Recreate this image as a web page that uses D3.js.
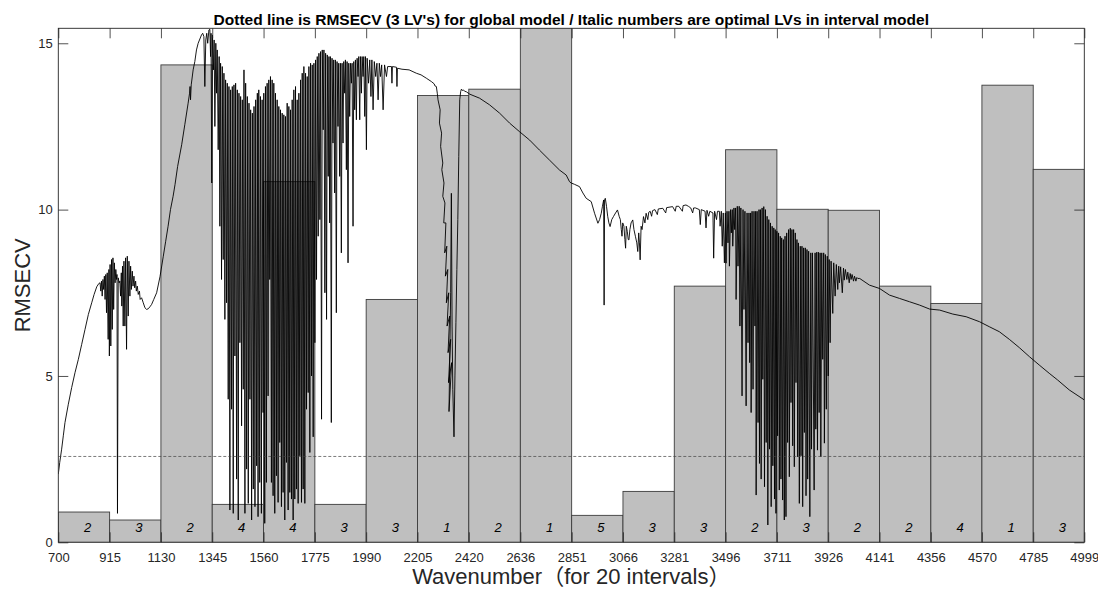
<!DOCTYPE html>
<html>
<head>
<meta charset="utf-8">
<script src="https://cdn.jsdelivr.net/npm/d3@7/dist/d3.min.js"></script>
<style>
  html, body { margin: 0; padding: 0; background: #fff; }
  svg { display: block; font-family: "Liberation Sans", Arial, Helvetica, sans-serif; }
</style>
</head>
<body>
<svg id="chart" width="1098" height="590"></svg>
<script>
// Interval boundaries (wavenumber) used as x tick labels
const tickWavenumbers = [700, 915, 1130, 1345, 1560, 1775, 1990, 2205, 2420, 2636, 2851,
  3066, 3281, 3496, 3711, 3926, 4141, 4356, 4570, 4785, 4999];

// RMSECV of each interval model (20 intervals)
const intervalRmsecv = [0.91, 0.67, 14.35, 1.14, 10.84, 1.14, 7.30, 13.43, 13.62, 15.60,
  0.81, 1.53, 7.70, 11.80, 10.01, 9.98, 7.70, 7.18, 13.74, 11.21];

// Optimal number of latent variables in each interval model
const optimalLVs = [2, 3, 2, 4, 4, 3, 3, 1, 2, 1, 5, 3, 3, 2, 3, 2, 2, 4, 1, 3];

// RMSECV of the global model (3 LVs)
const globalRmsecv = 2.58;

const yTicks = [0, 5, 10, 15];

// Mean spectrum, scaled onto the RMSECV axis: [wavenumber, value]
const meanSpectrum = [
  [700,2.05],[706,2.4],[714,2.8],[721,3.2],[728,3.6],[742,4.15],[756,4.65],[770,5.1],[784,5.5],
  [798,5.95],[812,6.4],[826,6.85],[840,7.2],[850,7.45],[861,7.68],[870,7.78],
  [875,7.8],[878,7.55],[881,7.85],[884,7.4],[887,7.9],[890,7.6],[893,8.0],[896,7.3],[899,8.05],
  [902,6.9],[905,8.1],[909,6.1],[912,8.2],[914,5.6],[917,8.35],[920,5.9],[923,8.5],[926,6.4],
  [929,8.55],[932,7.0],[935,8.4],[938,7.8],[941,8.2],[944,7.9],[946,8.05],[948,0.87],[951,7.95],
  [955,7.8],[958,7.85],[961,7.4],[964,8.1],[966,7.1],[969,8.3],[972,6.5],[975,8.45],[979,6.5],
  [982,8.55],[986,5.8],[989,8.6],[993,6.8],[996,8.45],[1000,7.4],[1003,8.3],[1006,7.6],[1010,8.15],
  [1013,7.7],[1017,8.0],[1020,7.65],[1024,7.85],[1027,7.55],[1031,7.7],[1035,7.45],[1040,7.55],
  [1043,7.3],[1049,7.35],[1056,7.2],[1063,7.05],[1070,7.0],[1077,7.02],[1084,7.08],[1091,7.15],
  [1100,7.3],[1112,7.5],
  [1126,7.98],[1140,8.6],[1150,9.05],[1160,9.5],[1170,10.0],[1181,10.4],[1189,10.75],[1200,11.3],
  [1217,11.95],[1230,12.55],[1244,13.2],[1250,13.5],[1252,13.7],[1254,13.3],[1257,13.75],
  [1265,14.2],[1272,14.45],[1279,14.8],[1286,15.0],[1300,15.25],[1305,15.3],[1310,15.2],
  [1314,13.7],[1318,15.1],[1322,15.3],[1326,15.0],[1331,15.4],[1335,15.42],[1338,14.6],
  [1340,15.3],[1343,10.8],
  [1346,15.25],[1350,14.2],[1353,15.1],[1356,12.5],[1360,15.0],[1363,13.5],[1366,14.8],[1370,11.8],
  [1374,14.6],[1377,9.5],[1380,14.4],[1384,7.9],[1387,14.3],[1391,8.5],[1394,14.1],[1398,6.7],
  [1401,13.9],[1405,7.2],[1408,13.8],[1412,4.3],[1415,13.7],[1419,0.97],[1422,13.6],[1426,4.0],
  [1429,13.7],[1433,0.87],[1436,13.75],[1440,5.6],[1443,13.8],[1447,1.9],[1450,13.6],[1454,0.67],
  [1457,13.5],[1461,6.0],[1464,13.4],[1468,3.5],[1471,13.3],[1475,4.6],[1478,14.2],[1482,0.87],
  [1485,13.8],[1489,2.2],[1492,13.4],[1496,1.17],[1499,13.2],[1503,4.3],[1506,13.0],[1510,0.67],
  [1513,12.9],[1517,1.6],[1520,13.1],[1524,1.07],[1527,13.3],[1531,2.3],[1534,13.5],[1537,0.77],
  [1540,13.6],[1544,1.8],[1547,13.4],[1551,0.87],[1554,13.3],[1558,3.9],[1561,13.5],[1565,0.57],
  [1568,13.7],[1572,1.8],[1575,13.8],[1579,4.4],[1582,13.9],[1586,7.9],[1589,14.0],[1593,1.8],
  [1596,13.9],[1600,1.4],[1603,13.8],[1607,0.87],[1610,13.5],[1614,2.0],[1617,13.3],[1621,1.2],
  [1624,13.1],[1628,3.0],[1631,13.0],[1635,1.07],[1638,12.9],[1642,1.5],[1645,12.85],[1649,0.67],
  [1652,12.8],[1656,2.4],[1659,13.2],[1663,0.97],[1666,13.1],[1670,1.5],[1673,13.0],[1677,1.3],
  [1680,13.3],[1684,0.67],[1687,13.6],[1691,1.3],[1694,13.7],[1698,1.6],[1701,13.3],[1705,1.17],
  [1708,13.5],[1712,2.6],[1715,13.9],[1719,1.2],[1722,14.1],[1726,1.6],[1729,14.3],[1733,1.17],
  [1736,14.1],[1740,4.0],[1743,14.0],[1747,4.5],[1750,14.3],[1754,2.7],[1757,14.4],[1761,5.0],
  [1764,14.35],[1768,3.17],[1771,14.4],[1775,6.0],[1778,14.5],[1782,7.9],[1785,14.6],[1789,9.2],
  [1792,14.7],[1796,9.7],[1799,14.75],[1803,3.7],[1806,14.8],[1810,12.4],[1813,14.8],[1817,7.5],
  [1820,14.7],[1824,6.7],[1827,14.65],[1831,11.0],[1834,14.6],[1837,9.6],[1840,14.6],[1844,3.6],
  [1847,14.55],[1851,12.0],[1854,14.5],[1858,10.5],[1861,14.5],[1865,6.9],[1868,14.45],[1872,12.5],
  [1875,14.4],[1879,11.0],[1882,14.4],[1886,8.7],[1889,14.4],[1893,12.0],[1896,14.45],[1900,13.5],
  [1903,14.5],[1907,11.2],[1910,14.45],[1914,8.4],[1917,14.4],[1921,12.8],[1924,14.4],[1928,13.8],
  [1931,14.4],[1935,9.5],[1938,14.45],[1942,13.0],[1945,14.5],[1949,12.7],[1952,14.55],[1956,14.0],
  [1959,14.6],[1963,12.7],[1966,14.6],[1970,13.5],[1973,14.6],[1977,14.0],[1980,14.6],[1984,12.8],
  [1987,14.6],[1991,11.8],[1994,14.55],[2000,13.8],[2005,14.5],[2010,13.4],[2014,14.5],[2019,13.0],
  [2024,14.45],[2030,14.0],[2035,14.4],[2040,13.3],[2045,14.4],[2050,14.0],[2055,14.35],[2061,13.0],
  [2067,14.35],[2075,14.0],[2080,14.3],[2096,14.3],[2098,13.8],[2100,14.3],[2117,14.28],[2119,13.7],
  [2121,14.25],[2140,14.22],[2170,14.2],[2200,14.1],[2220,14.05],[2242,13.95],[2263,13.85],
  [2275,13.78],[2278,13.72],[2284,13.7],[2288,13.5],
  [2291,13.3],[2300,13.0],[2297,12.6],[2306,12.3],[2302,11.9],[2311,11.4],[2307,11.2],[2316,10.8],
  [2311,10.4],[2320,10.2],[2315,9.6],[2324,9.6],[2319,8.7],[2328,8.9],[2322,8.0],[2332,8.2],
  [2326,7.2],[2336,7.5],[2329,6.5],[2340,6.8],[2333,5.7],[2344,6.1],[2335,4.8],[2348,5.4],
  [2337,3.93],[2344,7.5],[2347,10.49],[2350,6.5],[2353,4.6],[2358,3.17],[2362,5.0],[2366,6.6],
  [2370,8.2],[2374,9.7],[2378,11.6],[2382,13.3],[2386,13.55],[2389,13.62],[2393,13.58],
  [2397,13.6],[2402,13.56],[2410,13.54],
  [2424,13.47],[2465,13.35],[2507,13.15],[2549,12.9],[2591,12.6],[2633,12.34],[2675,12.09],
  [2716,11.79],[2758,11.49],[2800,11.19],[2828,11.04],[2842,10.84],[2849,10.8],[2863,10.76],
  [2884,10.69],[2898,10.5],[2912,10.34],[2933,10.24],[2947,9.89],[2961,9.59],[2968,9.7],
  [2975,9.89],[2980,10.1],[2985,10.29],[2987,7.13],[2989,10.3],[2992,10.34],[2997,10.1],
  [3002,9.8],[3007,9.6],[3012,9.49],[3019,9.7],[3026,9.79],[3035,9.9],[3043,9.99],[3050,9.8],
  [3055,9.7],[3059,9.4],[3062,9.2],[3065,9.6],[3070,9.5],[3074,9.1],[3077,8.84],[3080,9.5],
  [3084,9.35],[3088,9.1],[3091,9.09],[3095,9.4],[3100,9.6],[3107,9.69],[3112,9.4],[3118,9.2],
  [3124,9.0],[3128,8.74],[3132,9.3],[3135,9.0],[3138,8.49],[3142,9.5],[3146,9.4],[3152,9.79],
  [3158,9.6],[3163,9.89],[3170,9.7],[3174,9.92],[3180,9.95],[3186,9.8],[3190,9.97],[3200,10.0],
  [3210,9.85],[3214,10.02],[3233,10.04],[3245,9.9],[3249,10.06],[3274,10.09],[3285,9.95],
  [3289,10.1],[3300,10.1],[3315,9.95],[3318,10.12],[3330,10.14],[3340,10.1],[3350,10.05],
  [3358,9.9],[3362,10.05],[3370,10.05],[3386,10.0],[3390,9.55],[3394,10.0],[3410,9.95],
  [3414,9.45],[3418,9.98],[3425,9.8],[3430,9.95],[3443,9.9],[3446,8.54],[3450,9.95],[3458,9.7],
  [3462,9.95],
  [3470,9.95],[3473,9.5],[3478,9.95],[3482,8.9],[3486,9.9],[3491,8.4],[3495,9.9],[3498,8.39],
  [3502,9.95],[3506,9.0],[3510,9.95],[3512,8.3],[3517,10.0],[3520,9.3],[3524,10.0],[3526,8.9],
  [3531,10.05],[3534,9.4],[3538,10.05],[3540,7.3],[3545,10.1],[3548,8.3],[3553,10.1],[3556,6.5],
  [3560,10.05],[3565,4.4],[3569,10.0],[3573,7.0],[3577,9.95],[3582,4.1],[3586,9.9],[3590,6.0],
  [3594,9.9],[3597,5.4],[3601,9.9],[3603,3.9],[3607,9.95],[3611,4.6],[3615,9.95],[3619,6.5],
  [3622,9.95],[3624,1.42],[3628,9.95],[3632,3.6],[3636,10.0],[3638,2.37],[3642,10.0],[3645,1.9],
  [3649,10.05],[3652,4.9],[3656,10.09],[3659,1.67],[3663,10.0],[3666,3.0],[3670,9.8],[3673,0.52],
  [3677,9.7],[3680,2.8],[3684,9.6],[3687,1.07],[3691,9.5],[3694,2.3],[3698,9.45],[3701,1.3],
  [3704,9.4],[3707,0.87],[3711,9.35],[3714,3.2],[3718,9.3],[3721,1.57],[3725,9.2],[3728,1.9],
  [3731,9.15],[3735,1.27],[3738,9.1],[3742,0.67],[3745,9.2],[3749,0.77],[3752,9.3],[3756,3.0],
  [3760,9.4],[3763,1.97],[3767,9.44],[3770,4.2],[3774,9.4],[3777,2.9],[3781,9.4],[3784,2.27],
  [3788,9.3],[3791,4.8],[3795,9.1],[3798,2.57],[3801,9.0],[3805,1.17],[3809,8.9],[3812,2.6],
  [3816,8.9],[3819,1.07],[3823,8.85],[3826,3.3],[3830,8.85],[3833,1.4],[3837,8.8],[3840,1.9],
  [3844,8.75],[3849,0.77],[3853,8.7],[3856,2.8],[3860,8.7],[3867,1.57],[3871,8.7],[3874,3.4],
  [3878,8.72],[3881,2.77],[3885,8.72],[3888,3.9],[3892,8.7],[3895,2.57],[3899,8.7],[3903,5.5],
  [3907,8.7],[3910,2.98],[3914,8.65],[3918,4.0],[3922,8.6],[3926,5.0],[3930,8.5],[3934,6.0],
  [3938,8.45],[3945,6.88],[3949,8.4],[3955,7.4],[3960,8.35],[3966,7.6],[3970,8.3],[3973,7.8],
  [3978,8.28],[3985,7.5],[3990,8.24],[3993,7.88],[3998,8.2],[4004,7.9],[4008,8.12],[4014,7.8],
  [4018,8.08],[4022,7.9],[4026,8.05],[4032,7.85],[4036,8.0],[4042,7.85],[4046,7.96],[4050,7.93],
  [4058,7.93],[4099,7.73],[4141,7.63],[4183,7.43],[4225,7.33],[4267,7.23],[4309,7.13],[4351,7.01],
  [4393,6.98],[4448,6.86],[4504,6.78],[4560,6.63],[4601,6.48],[4643,6.33],[4685,6.1],[4727,5.85],
  [4769,5.58],[4810,5.33],[4852,5.08],[4887,4.88],[4936,4.58],[4999,4.28]
];

const titleText = "Dotted line is RMSECV (3 LV's) for global model / Italic numbers are optimal LVs in interval model";
const xLabelText = "Wavenumber\uFF08for 20 intervals\uFF09";
const yLabelText = "RMSECV";

// ---- layout ----
const margin = { left: 58.3, top: 28.3, right: 13.7, bottom: 47.7 };
const W = 1098, H = 590;
const innerW = W - margin.left - margin.right;
const innerH = H - margin.top - margin.bottom;

const svg = d3.select("#chart");
const g = svg.append("g").attr("transform", `translate(${margin.left},${margin.top})`);

const x = d3.scaleLinear().domain([700, 4999]).range([0, innerW]);
const y = d3.scaleLinear().domain([0, 15.45]).range([innerH, 0]);

svg.append("defs").append("clipPath").attr("id", "plotClip")
  .append("rect").attr("x", 0).attr("y", 0).attr("width", innerW).attr("height", innerH);

const plot = g.append("g").attr("clip-path", "url(#plotClip)");

// interval bars
const bars = intervalRmsecv.map((v, i) => ({
  x0: tickWavenumbers[i], x1: tickWavenumbers[i + 1], v, lv: optimalLVs[i]
}));

plot.selectAll("rect.bar").data(bars).join("rect")
  .attr("class", "bar")
  .attr("x", d => x(d.x0))
  .attr("width", d => x(d.x1) - x(d.x0))
  .attr("y", d => y(d.v))
  .attr("height", d => y(0) - y(d.v))
  .attr("fill", "#bfbfbf")
  .attr("stroke", "#3c3c3c")
  .attr("stroke-width", 0.9);

// mean spectrum
const line = d3.line().x(d => x(d[0])).y(d => y(d[1]));
plot.append("path")
  .datum(meanSpectrum)
  .attr("d", line)
  .attr("fill", "none")
  .attr("stroke", "#000")
  .attr("stroke-width", 0.9)
  .attr("stroke-linejoin", "miter");

// global model RMSECV
plot.append("line")
  .attr("x1", 0).attr("x2", innerW)
  .attr("y1", y(globalRmsecv)).attr("y2", y(globalRmsecv))
  .attr("stroke", "#444")
  .attr("stroke-width", 0.7)
  .attr("stroke-dasharray", "3,2");

// optimal LV numbers
g.selectAll("text.lv").data(bars).join("text")
  .attr("class", "lv")
  .attr("x", d => x((d.x0 + d.x1) / 2))
  .attr("y", y(0.44))
  .attr("dy", "0.35em")
  .attr("font-size", 13)
  .attr("font-style", "italic")
  .attr("fill", "#000")
  .text(d => d.lv);

// axes with inward ticks on all four sides
const axisColor = "#262626";
const fmt = d => d;
const axB = d3.axisBottom(x).tickValues(tickWavenumbers).tickSizeInner(-10).tickSizeOuter(0).tickPadding(10.2).tickFormat(fmt);
const axT = d3.axisTop(x).tickValues(tickWavenumbers).tickSizeInner(-10).tickSizeOuter(0).tickFormat("");
const axL = d3.axisLeft(y).tickValues(yTicks).tickSizeInner(-10).tickSizeOuter(0).tickPadding(5.6).tickFormat(fmt);
const axR = d3.axisRight(y).tickValues(yTicks).tickSizeInner(-10).tickSizeOuter(0).tickFormat("");

function styleAxis(sel) {
  sel.select(".domain").remove();
  sel.selectAll("line").attr("stroke", axisColor).attr("stroke-width", 0.8);
  sel.selectAll("text").attr("fill", axisColor).attr("font-size", 13)
    .attr("font-family", "'Liberation Sans', Arial, Helvetica, sans-serif");
}

g.append("g").attr("transform", `translate(0,${innerH})`).call(axB).call(styleAxis);
g.append("g").call(axT).call(styleAxis);
g.append("g").call(axL).call(styleAxis);
g.append("g").attr("transform", `translate(${innerW},0)`).call(axR).call(styleAxis);

// axes box
g.append("rect")
  .attr("x", 0).attr("y", 0).attr("width", innerW).attr("height", innerH)
  .attr("fill", "none").attr("stroke", axisColor).attr("stroke-width", 0.9);

// title and axis labels
svg.append("text")
  .attr("x", margin.left + innerW / 2).attr("y", 24.5)
  .attr("text-anchor", "middle")
  .attr("font-size", 15.5).attr("font-weight", "bold").attr("fill", "#000")
  .text(titleText);

svg.append("text")
  .attr("x", margin.left + innerW / 2).attr("y", 584)
  .attr("text-anchor", "middle")
  .attr("font-size", 22).attr("fill", axisColor)
  .attr("font-family", "'Liberation Sans', Arial, 'Noto Sans CJK SC', sans-serif")
  .text(xLabelText);

svg.append("text")
  .attr("transform", `translate(30,${margin.top + innerH / 2}) rotate(-90)`)
  .attr("text-anchor", "middle")
  .attr("font-size", 22).attr("fill", axisColor)
  .text(yLabelText);
</script>
</body>
</html>
